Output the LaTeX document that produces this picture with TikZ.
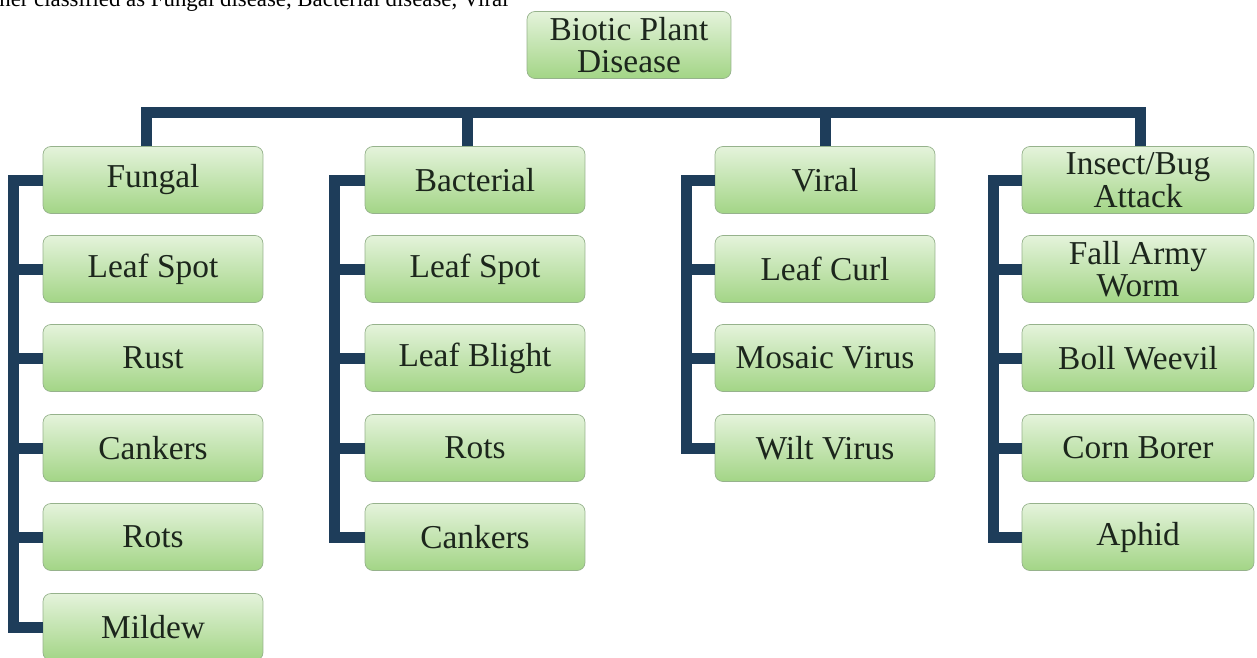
\documentclass[tikz,border=0pt]{standalone}
\usepackage{fontspec}
\setmainfont{Liberation Serif}
\usetikzlibrary{positioning, calc}
\definecolor{linkblue}{RGB}{30,61,90}
\definecolor{boxtop}{RGB}{228,243,219}
\definecolor{boxbot}{RGB}{163,213,134}
\definecolor{boxline}{RGB}{150,178,140}
\definecolor{inktext}{RGB}{28,38,28}

\begin{document}
\begin{tikzpicture}[
  x=0.02cm, y=-0.02cm,
  box/.style={draw=boxline, top color=boxtop, bottom color=boxbot, rounded corners=4.5pt,
    align=center, minimum width=4.4cm, minimum height=1.34cm, inner sep=2pt,
    text=inktext, font=\fontsize{19}{18.5}\selectfont},
  widebox/.style={box, minimum width=4.64cm},
  link/.style={draw=linkblue, line width=0.22cm},
  stem/.style={draw=linkblue, line width=0.38cm},
  note/.style={anchor=base west, inner sep=0pt, font=\fontsize{13}{15}\selectfont}
]
\useasboundingbox (0,0) rectangle (1257,657);

% --- cut-off line of running text above the chart ---
\node[note] (lead) at (-1,6) {ner classified as Fungal disease, Bacterial disease, Viral};

% --- root ---
\node[box, minimum width=4.08cm] (root) at (629,45) {Biotic Plant\\Disease};

% --- four groups, left to right ---
\node[box]     (fungal)    at (153,180)  {Fungal};
\node[box]     (bacterial) at (475,180)  {Bacterial};
\node[box]     (viral)     at (825,180)  {Viral};
\node[widebox] (insect)    at (1138,180) {Insect/Bug\\Attack};

% --- fungal column ---
\node[box] (fleaf) at (153,269) {Leaf Spot};
\node[box] (frust) at (153,358) {Rust};
\node[box] (fcank) at (153,448) {Cankers};
\node[box] (frots) at (153,537) {Rots};
\node[box] (fmild) at (153,627) {Mildew};

% --- bacterial column ---
\node[box] (bleaf)   at (475,269) {Leaf Spot};
\node[box] (bblight) at (475,358) {Leaf Blight};
\node[box] (brots)   at (475,448) {Rots};
\node[box] (bcank)   at (475,537) {Cankers};

% --- viral column ---
\node[box] (vcurl)   at (825,269) {Leaf Curl};
\node[box] (vmosaic) at (825,358) {Mosaic Virus};
\node[box] (vwilt)   at (825,448) {Wilt Virus};

% --- insect column ---
\node[widebox] (iworm)   at (1138,269) {Fall Army\\Worm};
\node[widebox] (iweevil) at (1138,358) {Boll Weevil};
\node[widebox] (iborer)  at (1138,448) {Corn Borer};
\node[widebox] (iaphid)  at (1138,537) {Aphid};

% root feeds the bus, the bus feeds the groups
\coordinate (bus) at (632,112);
\coordinate (d1) at ($(fungal.north)+(-7,0)$);
\coordinate (d2) at ($(bacterial.north)+(-8,0)$);
\coordinate (d4) at ($(insect.north)+(2,0)$);
\draw[stem] ($(root.south)+(3,0)$) -- ($(root.south)+(3,0)$ |- bus);
\draw[link] (d1) |- (bus) -| (d4);
\draw[link] (d2) -- (d2 |- bus);
\draw[link] (viral.north) -- (viral.north |- bus);

% brackets down the left of each column
\draw[link] (fungal.west) -- ++(-29,0) |- (fmild.west);
\draw[link] (fleaf.west) -- ++(-29,0);
\draw[link] (frust.west) -- ++(-29,0);
\draw[link] (fcank.west) -- ++(-29,0);
\draw[link] (frots.west) -- ++(-29,0);

\draw[link] (bacterial.west) -- ++(-30,0) |- (bcank.west);
\draw[link] (bleaf.west) -- ++(-30,0);
\draw[link] (bblight.west) -- ++(-30,0);
\draw[link] (brots.west) -- ++(-30,0);

\draw[link] (viral.west) -- ++(-28,0) |- (vwilt.west);
\draw[link] (vcurl.west) -- ++(-28,0);
\draw[link] (vmosaic.west) -- ++(-28,0);

\draw[link] (insect.west) -- ++(-28,0) |- (iaphid.west);
\draw[link] (iworm.west) -- ++(-28,0);
\draw[link] (iweevil.west) -- ++(-28,0);
\draw[link] (iborer.west) -- ++(-28,0);

\end{tikzpicture}
\end{document}
